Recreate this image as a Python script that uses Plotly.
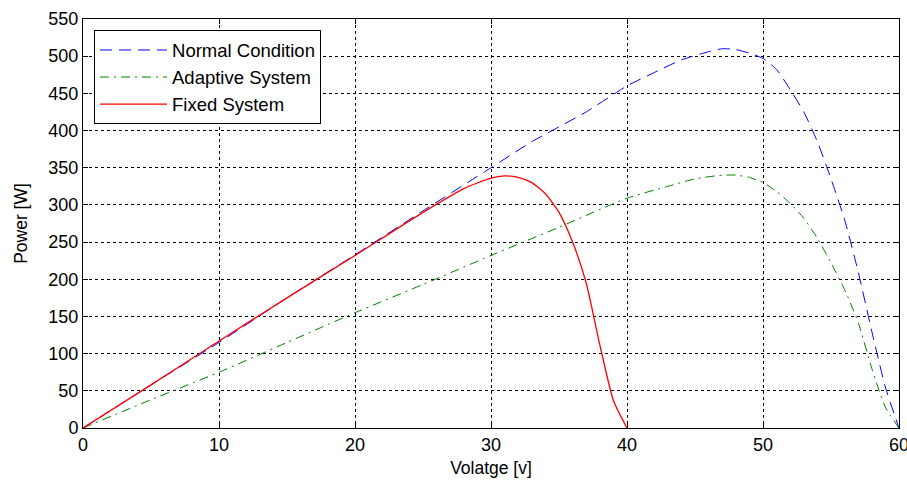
import plotly.graph_objects as go

# Normal Condition
normal_v = [0, 5, 10, 15, 20, 25, 30, 33, 35, 37, 40, 42, 44, 46, 47, 48, 49, 50, 51, 52, 53, 54, 55, 56, 57, 58, 59, 60]
normal_p = [0, 58, 115, 175, 233, 292, 350, 385, 405, 425, 460, 478, 495, 506, 510, 509, 504, 497, 482, 455, 425, 385, 335, 280, 210, 130, 55, 0]

# Adaptive System
adapt_v = [0, 5, 10, 15, 20, 25, 30, 35, 40, 43, 45, 47, 48, 49, 50, 51, 52, 53, 54, 55, 56, 57, 58, 59, 60]
adapt_p = [0, 38, 75, 115, 155, 193, 232, 270, 309, 325, 335, 340, 340, 337, 330, 318, 302, 282, 255, 222, 186, 142, 80, 28, 0]

# Fixed System
fixed_v = [0, 5, 10, 15, 20, 25, 28, 30, 31, 32, 33, 34, 35, 36, 37, 38, 39, 40]
fixed_p = [0, 58, 117, 175, 232, 290, 322, 336, 339, 337, 330, 315, 290, 250, 195, 112, 37, 0]

x_ticks = [0, 10, 20, 30, 40, 50, 60]
y_ticks = list(range(0, 551, 50))

FONT = "Liberation Sans, Arial, sans-serif"

fig = go.Figure()
fig.add_trace(go.Scatter(x=normal_v, y=normal_p, mode="lines", name="Normal Condition", legendgroup="a",
                         line=dict(color="#0000ff", width=1, dash="12px,7px", shape="spline", smoothing=0.6)))
fig.add_trace(go.Scatter(x=adapt_v, y=adapt_p, mode="lines", name="Adaptive System", legendgroup="b",
                         line=dict(color="#008000", width=1, dash="9px,5px,2px,5px", shape="spline", smoothing=0.6)))
fig.add_trace(go.Scatter(x=fixed_v, y=fixed_p, mode="lines", name="Fixed System", legendgroup="c",
                         line=dict(color="#ff0000", width=1.3, shape="spline", smoothing=0.6)))

axis_common = dict(
    showline=True, linecolor="black", linewidth=1, mirror="ticks",
    ticks="inside", ticklen=5, tickcolor="black",
    showgrid=True, gridcolor="black", gridwidth=1, griddash="3px,3px",
    zeroline=False, automargin=False,
    tickfont=dict(family=FONT, size=18, color="black"),
    ticklabeloverflow="allow",
)

fig.update_xaxes(range=[0, 60], tickvals=x_ticks,
                 title=dict(text="Volatge [v]", font=dict(family=FONT, size=17.5, color="black"), standoff=8),
                 **axis_common)
fig.update_yaxes(range=[0, 550], tickvals=y_ticks,
                 title=dict(text="Power [W]", font=dict(family=FONT, size=17.5, color="black"), standoff=16),
                 **axis_common)

fig.update_layout(
    width=907, height=481, autosize=False,
    margin=dict(l=83, r=8, t=19, b=53, pad=0),
    plot_bgcolor="white", paper_bgcolor="white",
    font=dict(family=FONT, size=18, color="black"),
    legend=dict(x=0.0135, y=0.972, xanchor="left", yanchor="top",
                bordercolor="black", borderwidth=1, bgcolor="white",
                font=dict(family=FONT, size=18.5), tracegroupgap=0, itemwidth=67),
    showlegend=True,
)

fig.write_html("out.html", config={"displayModeBar": False},
               post_script="document.body.style.margin='0';document.body.style.overflow='hidden';")
